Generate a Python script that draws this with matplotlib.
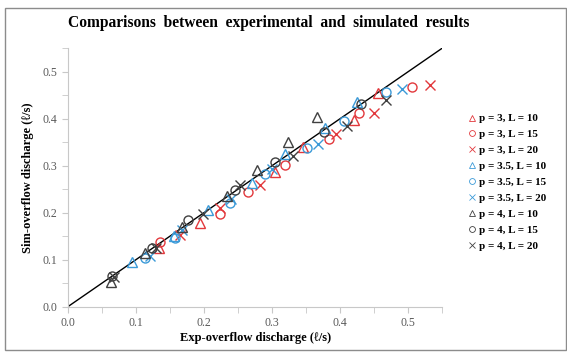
import matplotlib.pyplot as plt
from matplotlib.patches import Rectangle
from matplotlib.ticker import MultipleLocator

plt.rcParams['font.family'] = ['Liberation Serif', 'DejaVu Serif']

# experimental vs simulated overflow discharge (l/s)
exp_p3_L10 = [0.133, 0.194, 0.304, 0.345, 0.420, 0.456]
sim_p3_L10 = [0.124, 0.178, 0.287, 0.340, 0.397, 0.455]
exp_p3_L15 = [0.135, 0.224, 0.265, 0.319, 0.384, 0.428, 0.505]
sim_p3_L15 = [0.138, 0.197, 0.244, 0.301, 0.357, 0.411, 0.468]
exp_p3_L20 = [0.165, 0.224, 0.282, 0.394, 0.449, 0.532]
sim_p3_L20 = [0.152, 0.210, 0.259, 0.368, 0.413, 0.471]

exp_p35_L10 = [0.094, 0.155, 0.205, 0.270, 0.319, 0.378, 0.424]
sim_p35_L10 = [0.095, 0.150, 0.205, 0.263, 0.324, 0.379, 0.436]
exp_p35_L15 = [0.113, 0.157, 0.238, 0.290, 0.351, 0.406, 0.468]
sim_p35_L15 = [0.103, 0.145, 0.220, 0.283, 0.337, 0.394, 0.457]
exp_p35_L20 = [0.120, 0.168, 0.240, 0.300, 0.368, 0.491]
sim_p35_L20 = [0.108, 0.163, 0.228, 0.292, 0.347, 0.464]

exp_p4_L10 = [0.063, 0.113, 0.167, 0.233, 0.277, 0.324, 0.366]
sim_p4_L10 = [0.053, 0.114, 0.170, 0.235, 0.290, 0.351, 0.404]
exp_p4_L15 = [0.065, 0.123, 0.177, 0.246, 0.304, 0.376, 0.431]
sim_p4_L15 = [0.064, 0.124, 0.184, 0.248, 0.308, 0.372, 0.432]
exp_p4_L20 = [0.067, 0.130, 0.199, 0.253, 0.330, 0.410, 0.468]
sim_p4_L20 = [0.062, 0.124, 0.198, 0.258, 0.320, 0.384, 0.440]

red = '#e2383c'
blue = '#3b9ad8'
black = '#404040'

series = [
    (exp_p3_L10, sim_p3_L10, '^', red, 'p = 3, L = 10'),
    (exp_p3_L15, sim_p3_L15, 'o', red, 'p = 3, L = 15'),
    (exp_p3_L20, sim_p3_L20, 'x', red, 'p = 3, L = 20'),
    (exp_p35_L10, sim_p35_L10, '^', blue, 'p = 3.5, L = 10'),
    (exp_p35_L15, sim_p35_L15, 'o', blue, 'p = 3.5, L = 15'),
    (exp_p35_L20, sim_p35_L20, 'x', blue, 'p = 3.5, L = 20'),
    (exp_p4_L10, sim_p4_L10, '^', black, 'p = 4, L = 10'),
    (exp_p4_L15, sim_p4_L15, 'o', black, 'p = 4, L = 15'),
    (exp_p4_L20, sim_p4_L20, 'x', black, 'p = 4, L = 20'),
]

fig = plt.figure(figsize=(5.67, 3.54), dpi=100)
ax = fig.add_axes([0.12, 0.134, 0.66, 0.73])

# 1:1 line
ax.plot([0, 0.55], [0, 0.55], color='black', linewidth=1.0, zorder=1)

for x, y, m, c, lab in series:
    if m == 'x':
        ax.plot(x, y, linestyle='none', marker='x', markersize=6.5, color=c,
                markeredgewidth=1.0, label=lab, zorder=2)
    else:
        ax.plot(x, y, linestyle='none', marker=m, markersize=6.5,
                markerfacecolor='none', markeredgecolor=c,
                markeredgewidth=1.0, label=lab, zorder=2)

ax.set_xlim(0, 0.55)
ax.set_ylim(0, 0.55)
ax.xaxis.set_major_locator(MultipleLocator(0.1))
ax.yaxis.set_major_locator(MultipleLocator(0.1))
ax.xaxis.set_minor_locator(MultipleLocator(0.05))
ax.yaxis.set_minor_locator(MultipleLocator(0.05))
ax.xaxis.set_major_formatter(lambda v, p: f'{v:.1f}')
ax.yaxis.set_major_formatter(lambda v, p: f'{v:.1f}')

for s in ['top', 'right']:
    ax.spines[s].set_visible(False)
for s in ['left', 'bottom']:
    ax.spines[s].set_color('#c8c8c8')
ax.tick_params(which='both', direction='out', color='#c8c8c8', labelcolor='#595959',
               labelsize=8.5, length=4)

ax.set_xlabel('Exp-overflow discharge (ℓ/s)', fontsize=9, fontweight='bold', labelpad=2)
ax.set_ylabel('Sim-overflow discharge (ℓ/s)', fontsize=9, fontweight='bold', labelpad=6)
fig.text(0.473, 0.935, 'Comparisons  between  experimental  and  simulated  results',
         ha='center', va='center', fontsize=11.2, fontweight='bold')

leg = ax.legend(loc='upper left', bbox_to_anchor=(1.045, 0.785), frameon=False,
                prop={'size': 8, 'weight': 'bold'}, handlelength=0.6,
                handletextpad=0.25, labelspacing=0.55, markerscale=0.65)
for h in leg.legend_handles:
    h.set_markeredgewidth(0.6)

fig.patches.append(Rectangle((0.009, 0.01), 0.99, 0.967, transform=fig.transFigure,
                             fill=False, edgecolor='#8c8c8c', linewidth=1.0))

fig.savefig('out.png', dpi=100)
